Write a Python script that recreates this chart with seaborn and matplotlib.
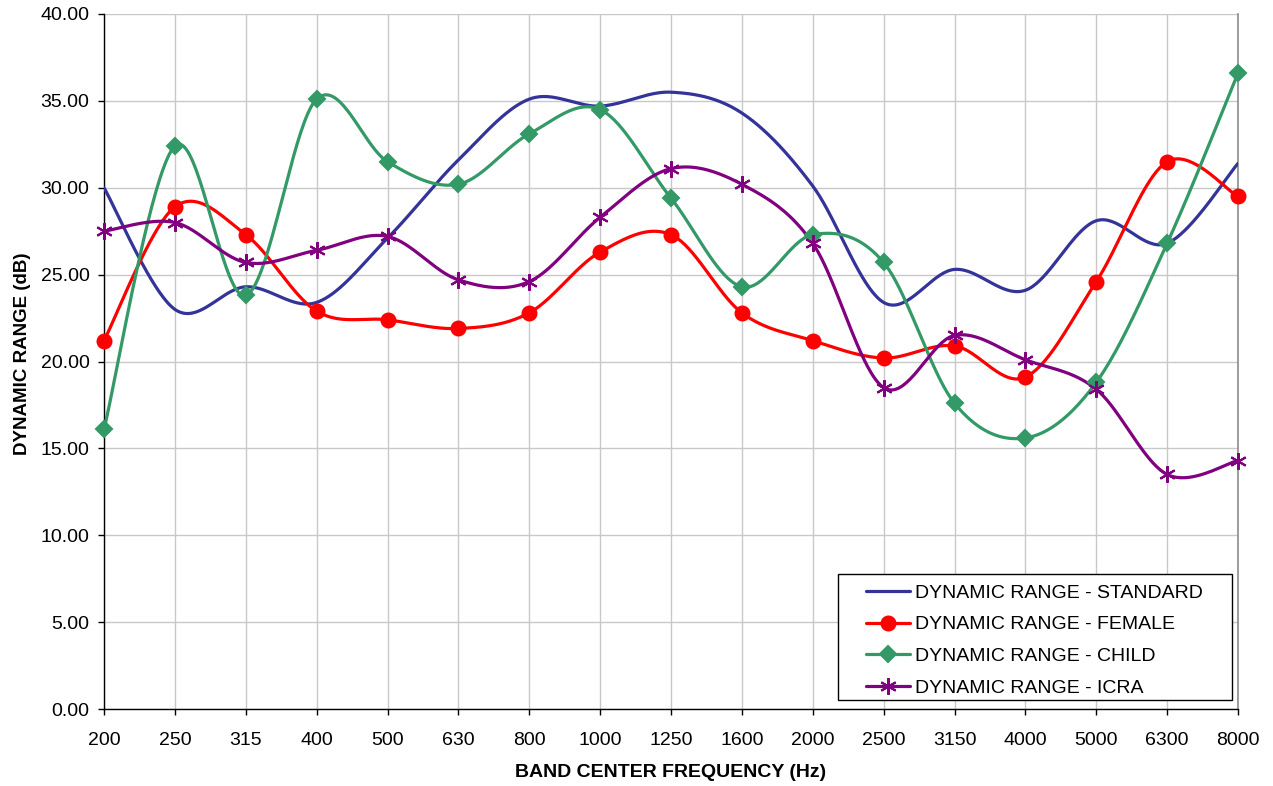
import numpy as np
import pandas as pd
import matplotlib
matplotlib.use("Agg")
import matplotlib.pyplot as plt
from matplotlib.lines import Line2D
from matplotlib.patches import Rectangle
import seaborn as sns

freqs = ["200", "250", "315", "400", "500", "630", "800", "1000", "1250",
         "1600", "2000", "2500", "3150", "4000", "5000", "6300", "8000"]
standard = [30.0, 23.0, 24.3, 23.4, 27.1, 31.6, 35.1, 34.7, 35.5, 34.3,
            30.1, 23.4, 25.3, 24.1, 28.1, 26.8, 31.4]
female = [21.2, 28.9, 27.3, 22.9, 22.4, 21.9, 22.8, 26.3, 27.3, 22.8,
          21.2, 20.2, 20.9, 19.1, 24.6, 31.5, 29.5]
child = [16.1, 32.4, 23.8, 35.1, 31.5, 30.2, 33.1, 34.5, 29.4, 24.3,
         27.3, 25.7, 17.6, 15.6, 18.8, 26.8, 36.6]
icra = [27.5, 28.0, 25.7, 26.4, 27.2, 24.7, 24.6, 28.3, 31.1, 30.2,
        26.8, 18.5, 21.5, 20.1, 18.4, 13.5, 14.3]
series_names = ["DYNAMIC RANGE - STANDARD", "DYNAMIC RANGE - FEMALE",
                "DYNAMIC RANGE - CHILD", "DYNAMIC RANGE - ICRA"]

sns.set_theme(style="white")
plt.rcParams["font.family"] = ["Liberation Sans", "DejaVu Sans"]
plt.rcParams["text.color"] = "black"
plt.rcParams["axes.labelcolor"] = "black"

W, H = 1273, 786


def smooth(y, n=40):
    """Excel-like Catmull-Rom Bezier smoothing on uniform category positions."""
    y = np.asarray(y, float)
    x = np.arange(len(y), dtype=float)
    P = np.column_stack([x, y])
    out = []
    for i in range(len(P) - 1):
        p0 = P[i - 1] if i > 0 else P[i]
        p1 = P[i]
        p2 = P[i + 1]
        p3 = P[i + 2] if i + 2 < len(P) else P[i + 1]
        c1 = p1 + (p2 - p0) / 6.0
        c2 = p2 - (p3 - p1) / 6.0
        t = np.linspace(0, 1, n, endpoint=(i == len(P) - 2))[:, None]
        b = ((1 - t) ** 3) * p1 + 3 * ((1 - t) ** 2) * t * c1 + 3 * (1 - t) * t ** 2 * c2 + t ** 3 * p2
        out.append(b)
    out = np.vstack(out)
    return out[:, 0], out[:, 1]


fig = plt.figure(figsize=(W / 100, H / 100), dpi=100)
ax = fig.add_axes([104 / W, 1 - 709 / H, (1238 - 104) / W, (709 - 14) / H])

styles = [
    dict(color="#333399", marker=None, ms=0),
    dict(color="#FF0000", marker="o", ms=10),
    dict(color="#339966", marker="D", ms=8.5),
    dict(color="#800080", marker=(6, 2, 0), ms=12),
]
data = [standard, female, child, icra]
xpos = np.arange(len(freqs))
handles = []
LW = 2.3
for name, vals, st in zip(series_names, data, styles):
    sx, sy = smooth(vals)
    df = pd.DataFrame({"x": sx, "y": sy})
    sns.lineplot(data=df, x="x", y="y", ax=ax, color=st["color"], lw=LW,
                 sort=False, estimator=None, zorder=3)
    if st["marker"] is not None:
        ax.plot(xpos, vals, linestyle="none", marker=st["marker"], ms=st["ms"],
                color=st["color"], mec=st["color"], mew=1.5, zorder=4,
                clip_on=False)
    handles.append(Line2D([], [], color=st["color"], lw=LW,
                          marker=st["marker"] if st["marker"] is not None else None,
                          ms=st["ms"], mew=1.5))

ax.set_xlim(0, len(freqs) - 1)
ax.set_ylim(0, 40)
ax.set_xticks(xpos)
ax.set_xticklabels(freqs)
ax.set_yticks(np.arange(0, 40.1, 5))
ax.set_yticklabels([f"{v:.2f}" for v in np.arange(0, 40.1, 5)])
ax.grid(True, color="#c8c8c8", lw=1.0)
ax.set_axisbelow(True)
ax.spines["top"].set_visible(False)
ax.spines["right"].set_color("#8c8c8c")
ax.spines["right"].set_linewidth(1.2)
for s in ["left", "bottom"]:
    ax.spines[s].set_color("black")
    ax.spines[s].set_linewidth(1.0)
ax.tick_params(axis="both", which="major", length=4.5, width=1, color="black",
               direction="out", labelsize=14, colors="black")
ax.tick_params(axis="x", bottom=True, pad=12)
ax.tick_params(axis="y", left=True, pad=6)
ax.set_xlabel("BAND CENTER FREQUENCY (Hz)", fontsize=14, fontweight="bold",
              labelpad=11, color="black")
ax.set_ylabel("DYNAMIC RANGE (dB)", fontsize=13.5, fontweight="bold",
              labelpad=10, color="black")
ax.yaxis.set_label_coords(-73 / 1134, 0.5 + (369 - 361.5) / 695)

# legend frame (Excel-style box)
fig.patches.append(Rectangle((838 / W, 1 - 700 / H), (1232 - 838) / W, (700 - 574) / H,
                             transform=fig.transFigure, facecolor="white",
                             edgecolor="black", lw=1.0, zorder=5))
leg = fig.legend(handles, series_names, loc="upper left",
                 bbox_to_anchor=(866 / W, 1 - 584 / H), fontsize=14, frameon=False,
                 handlelength=2.26, borderpad=0, labelspacing=0.725,
                 handletextpad=0.26, borderaxespad=0, labelcolor="black")
leg.set_zorder(6)

fig.savefig("out.png", dpi=100, facecolor="white")
